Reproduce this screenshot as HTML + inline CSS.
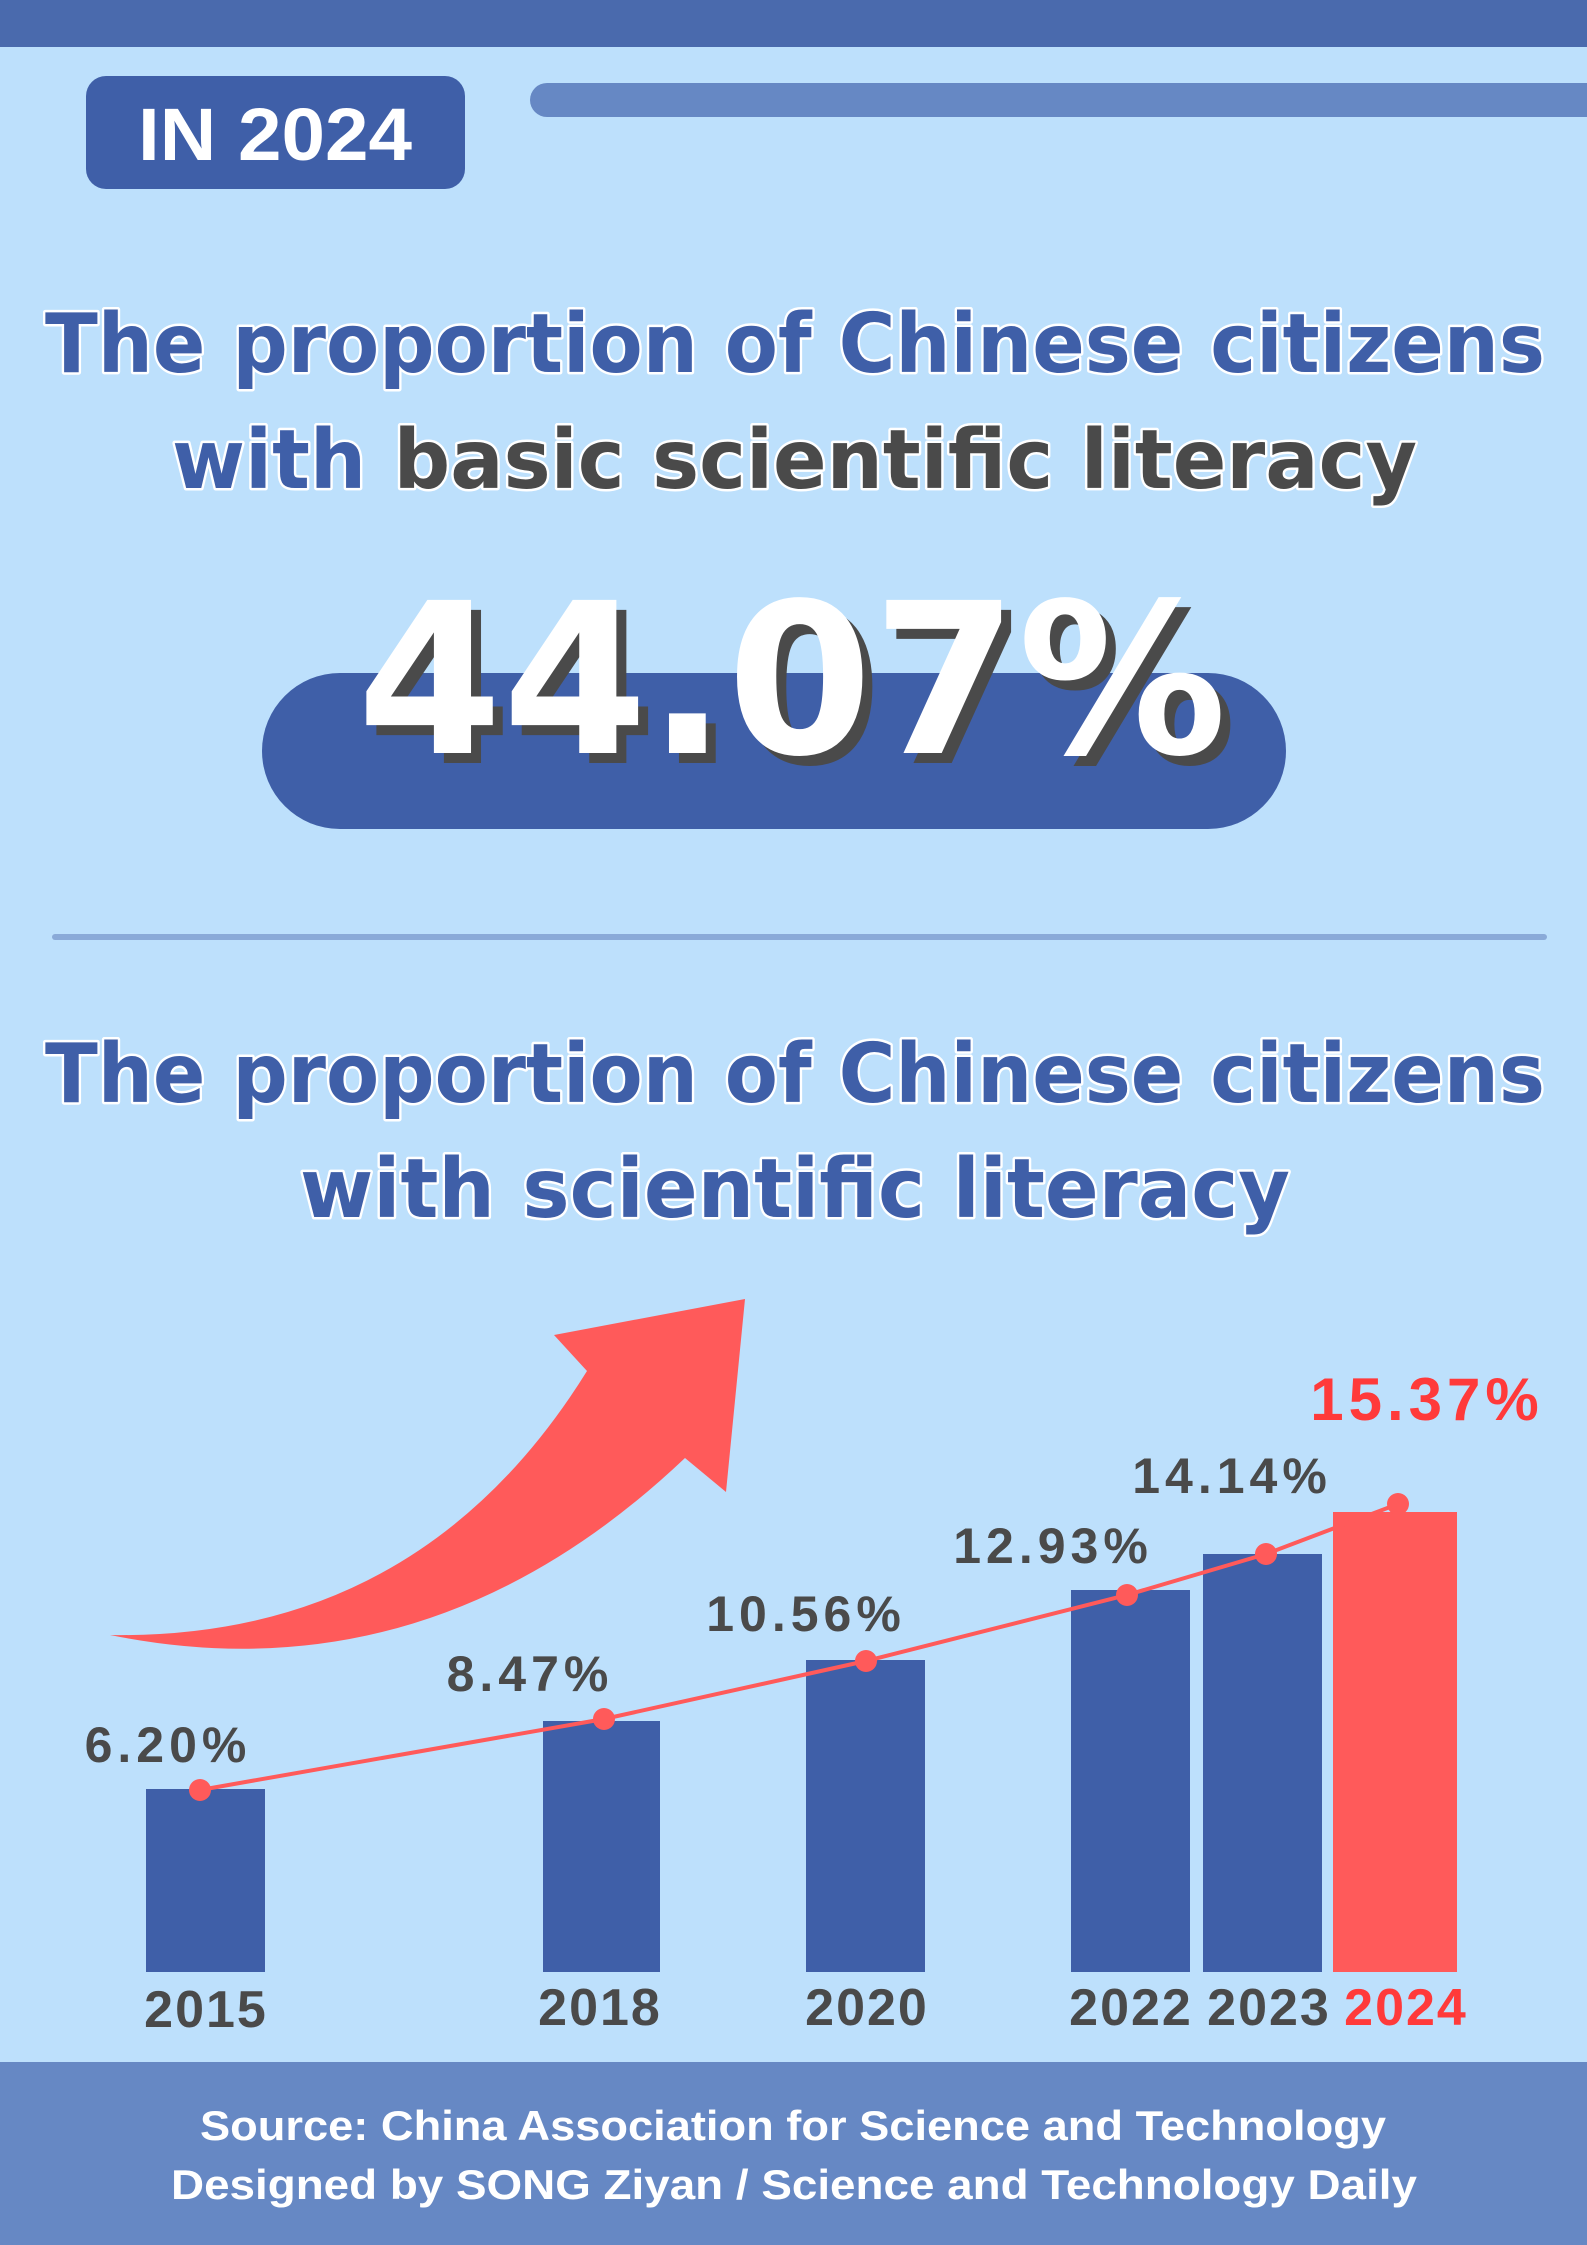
<!DOCTYPE html>
<html><head><meta charset="utf-8"><style>
html,body{margin:0;padding:0;background:#bde0fc;}
svg{display:block;}
</style></head><body>
<svg width="1587" height="2245" viewBox="0 0 1587 2245" xmlns="http://www.w3.org/2000/svg">
<rect width="1587" height="2245" fill="#bde0fc"/>
<rect width="1587" height="47" fill="#4a6aad"/>
<rect x="86" y="76" width="379" height="113" rx="20" fill="#3f5fa8"/>
<text x="275" y="160" text-anchor="middle" font-family="Liberation Sans, sans-serif" font-weight="bold" font-size="74" textLength="274" lengthAdjust="spacingAndGlyphs" fill="#fff">IN 2024</text>
<rect x="530" y="83" width="1100" height="34" rx="17" fill="#6688c4"/>

<g font-family="DejaVu Sans, sans-serif" font-weight="bold" font-size="82" stroke="#fff" stroke-width="5" paint-order="stroke" stroke-linejoin="round">
<text x="45" y="372" textLength="1500" lengthAdjust="spacingAndGlyphs" fill="#3f5fa8">The proportion of Chinese citizens</text>
<text x="172" y="488" textLength="1245" lengthAdjust="spacingAndGlyphs" fill="#4a4a4a"><tspan fill="#3f5fa8">with </tspan>basic scientific literacy</text>
<text x="45" y="1102" textLength="1500" lengthAdjust="spacingAndGlyphs" fill="#3f5fa8">The proportion of Chinese citizens</text>
<text x="300" y="1217" textLength="990" lengthAdjust="spacingAndGlyphs" fill="#3f5fa8">with scientific literacy</text>
</g>

<rect x="262" y="673" width="1024" height="156" rx="78" fill="#3f5fa8"/>
<text x="802" y="763" text-anchor="middle" font-family="DejaVu Sans, sans-serif" font-weight="bold" font-size="210" textLength="870" lengthAdjust="spacingAndGlyphs" fill="#4a4a4a">44.07%</text>
<text x="792" y="753" text-anchor="middle" font-family="DejaVu Sans, sans-serif" font-weight="bold" font-size="210" textLength="870" lengthAdjust="spacingAndGlyphs" fill="#fff">44.07%</text>

<rect x="52" y="934" width="1495" height="6" rx="3" fill="#8aaad8"/>

<path d="M110 1635 Q420 1640 587 1371 L554 1335 L745 1299 L726 1492 L685 1458 Q430 1700 110 1635 Z" fill="#ff5a5a"/>

<g fill="#3f5fa8">
<rect x="146" y="1789" width="119" height="183"/>
<rect x="543" y="1721" width="117" height="251"/>
<rect x="806" y="1660" width="119" height="312"/>
<rect x="1071" y="1590" width="119" height="382"/>
<rect x="1203" y="1554" width="119" height="418"/>
</g>
<rect x="1333" y="1512" width="124" height="460" fill="#ff5a5a"/>

<polyline points="200,1790 604,1719 866,1661 1127,1595 1266,1554 1398,1504" fill="none" stroke="#ff5a5a" stroke-width="4"/>
<g fill="#ff5a5a">
<circle cx="200" cy="1790" r="11"/><circle cx="604" cy="1719" r="11"/><circle cx="866" cy="1661" r="11"/>
<circle cx="1127" cy="1595" r="11"/><circle cx="1266" cy="1554" r="11"/><circle cx="1398" cy="1504" r="11"/>
</g>

<g font-family="Liberation Sans, sans-serif" font-weight="bold" font-size="50" fill="#4a4a4a" text-anchor="middle" letter-spacing="5">
<text x="168" y="1762">6.20%</text>
<text x="530" y="1691">8.47%</text>
<text x="806" y="1631">10.56%</text>
<text x="1053" y="1563">12.93%</text>
<text x="1232" y="1493">14.14%</text>
<text x="1427" y="1420" font-size="60" fill="#ff3a3a">15.37%</text>
</g>
<g font-family="Liberation Sans, sans-serif" font-weight="bold" font-size="52" fill="#4a4a4a" text-anchor="middle" letter-spacing="2">
<text x="206" y="2027">2015</text>
<text x="600" y="2025">2018</text>
<text x="867" y="2025">2020</text>
<text x="1131" y="2025">2022</text>
<text x="1269" y="2025">2023</text>
<text x="1406" y="2025" fill="#ff3a3a">2024</text>
</g>

<rect x="0" y="2062" width="1587" height="183" fill="#6688c4"/>
<g font-family="Liberation Sans, sans-serif" font-weight="bold" font-size="42" fill="#fff">
<text x="200" y="2140" textLength="1186" lengthAdjust="spacingAndGlyphs">Source: China Association for Science and Technology</text>
<text x="171" y="2199" textLength="1246" lengthAdjust="spacingAndGlyphs">Designed by SONG Ziyan / Science and Technology Daily</text>
</g>
</svg>
</body></html>
